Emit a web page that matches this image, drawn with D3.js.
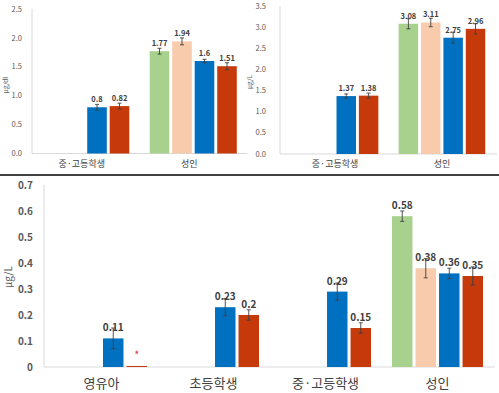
<html>
<head>
<script src="https://d3js.org/d3.v7.min.js"></script>
<style>
body { margin: 0; background: #fff; }
text { font-family: 'Noto Sans CJK KR', 'Noto Sans', sans-serif; }
</style>
</head>
<body>
<div id="plot"></div>
<script>

var width = 499;
var height = 393;

var seriesColors = ["#a9d18e", "#f8cbad", "#0070c0", "#c5390b"];

// top left panel (ug/dl)
var tlCategories = ["중·고등학생", "성인"];
var tlGreen = [null, 1.77], tlGreenErr = [null, 0.05];
var tlOrange = [null, 1.94], tlOrangeErr = [null, 0.06];
var tlBlue = [0.8, 1.6], tlBlueErr = [0.05, 0.03];
var tlRed = [0.82, 1.51], tlRedErr = [0.05, 0.06];
var tlTicks = ["0.0", "0.5", "1.0", "1.5", "2.0", "2.5"];

// top right panel (ug/L)
var trCategories = ["중·고등학생", "성인"];
var trGreen = [null, 3.08], trGreenErr = [null, 0.12];
var trOrange = [null, 3.11], trOrangeErr = [null, 0.1];
var trBlue = [1.37, 2.75], trBlueErr = [0.05, 0.13];
var trRed = [1.38, 2.96], trRedErr = [0.06, 0.12];
var trTicks = ["0.0", "0.5", "1.0", "1.5", "2.0", "2.5", "3.0", "3.5"];

// bottom panel (ug/L)
var btCategories = ["영유아", "초등학생", "중·고등학생", "성인"];
var btGreen = [null, null, null, 0.58], btGreenErr = [null, null, null, 0.02];
var btOrange = [null, null, null, 0.38], btOrangeErr = [null, null, null, 0.037];
var btBlue = [0.11, 0.23, 0.29, 0.36], btBlueErr = [0.04, 0.033, 0.033, 0.02];
var btRed = [0.004, 0.2, 0.15, 0.35], btRedErr = [null, 0.02, 0.02, 0.035];
var btRedLabels = ["*", "0.2", "0.15", "0.35"];
var btTicks = ["0", "0.1", "0.2", "0.3", "0.4", "0.5", "0.6", "0.7"];

var svg = d3.select("#plot").append("svg").attr("width", width).attr("height", height);
svg.append("rect").attr("width", width).attr("height", height).style("fill", "#fff");

function drawPanel(p) {
	var g = svg.append("g");

	var yScale = d3.scaleLinear().domain([0, p.max]).range([p.y0, p.y1]);
	var xScale = d3.scaleBand().domain(p.categories).range([p.x0, p.x1])
		.paddingInner(p.padIn).paddingOuter(p.padOut);
	var inner = d3.scaleBand().domain(d3.range(4)).range([0, xScale.bandwidth()]).paddingInner(0.13);

	// axis lines
	g.append("line").attr("x1", p.x0).attr("x2", p.x0)
		.attr("y1", yScale(p.max)).attr("y2", yScale(0))
		.style("stroke", "#d9d9d9");
	g.append("line").attr("x1", p.x0).attr("x2", p.x1)
		.attr("y1", yScale(0)).attr("y2", yScale(0))
		.style("stroke", "#d9d9d9");

	g.selectAll(".tick").data(p.ticks).enter().append("text")
		.attr("x", p.tickX)
		.attr("y", function(d) { return yScale(+d); })
		.attr("dy", "0.35em")
		.attr("text-anchor", "end")
		.style("font-size", p.tickSize + "px")
		.style("font-weight", p.tickWeight)
		.style("fill", "#595959")
		.text(function(d) { return d; });

	g.append("text")
		.attr("transform", "translate(" + p.titleX + "," + p.titleY + ") rotate(-90)")
		.attr("text-anchor", "middle")
		.attr("dy", "0.35em")
		.style("font-size", p.titleSize + "px")
		.style("fill", "#595959")
		.text(p.title);

	g.selectAll(".cat").data(p.categories).enter().append("text")
		.attr("x", function(d) { return xScale(d) + xScale.bandwidth() / 2 + p.catShift; })
		.attr("y", p.catY)
		.attr("text-anchor", "middle")
		.style("font-size", p.catSize + "px")
		.style("fill", "#404040")
		.text(function(d) { return d; });

	p.series.forEach(function(s, si) {
		var rows = s.values.map(function(v, i) {
			return { cat: p.categories[i], v: v, err: s.errs[i], label: s.labels ? s.labels[i] : v };
		}).filter(function(d) { return d.v !== null; });

		g.selectAll(".bar" + si).data(rows).enter().append("rect")
			.attr("x", function(d) { return xScale(d.cat) + inner(si); })
			.attr("y", function(d) { return yScale(d.v); })
			.attr("width", inner.bandwidth())
			.attr("height", function(d) { return yScale(0) - yScale(d.v); })
			.style("fill", seriesColors[si]);

		g.selectAll(".lab" + si).data(rows).enter().append("text")
			.attr("x", function(d) { return xScale(d.cat) + inner(si) + inner.bandwidth() / 2; })
			.attr("y", function(d) { return d.label === "*" ? yScale(d.v) - 8 : yScale(d.v) - p.labelGap; })
			.attr("text-anchor", "middle")
			.style("font-size", function(d) { return (d.label === "*" ? 9 : p.labelSize) + "px"; })
			.style("font-weight", "bold")
			.style("fill", function(d) { return d.label === "*" ? "#e8404a" : "#404040"; })
			.text(function(d) { return d.label; });

		var errRows = rows.filter(function(d) { return d.err; });
		var cx = function(d) { return xScale(d.cat) + inner(si) + inner.bandwidth() / 2; };
		g.selectAll(".err" + si).data(errRows).enter().append("path")
			.attr("d", function(d) {
				var x = cx(d), t = yScale(d.v + d.err), b = yScale(d.v - d.err);
				return "M" + x + "," + t + "V" + b +
					"M" + (x - 2) + "," + t + "H" + (x + 2) +
					"M" + (x - 2) + "," + b + "H" + (x + 2);
			})
			.style("stroke", "#404040")
			.style("stroke-width", 0.9)
			.style("fill", "none");
	});
}

drawPanel({
	categories: tlCategories, max: 2.5, y0: 153.5, y1: 9, x0: 32, x1: 247,
	padIn: 0.19, padOut: 0.095, ticks: tlTicks, tickX: 22, tickSize: 7.5, tickWeight: "normal",
	title: "μg/dl", titleX: 6, titleY: 85, titleSize: 6.5,
	catY: 167, catSize: 9, catShift: -4, labelSize: 7.5, labelGap: 5,
	series: [
		{ values: tlGreen, errs: tlGreenErr },
		{ values: tlOrange, errs: tlOrangeErr },
		{ values: tlBlue, errs: tlBlueErr },
		{ values: tlRed, errs: tlRedErr }
	]
});

drawPanel({
	categories: trCategories, max: 3.5, y0: 154, y1: 6, x0: 280, x1: 497,
	padIn: 0.19, padOut: 0.11, ticks: trTicks, tickX: 266, tickSize: 7.5, tickWeight: "normal",
	title: "μg/L", titleX: 250, titleY: 82, titleSize: 6.5,
	catY: 167, catSize: 9, catShift: 0, labelSize: 7.5, labelGap: 5,
	series: [
		{ values: trGreen, errs: trGreenErr },
		{ values: trOrange, errs: trOrangeErr },
		{ values: trBlue, errs: trBlueErr },
		{ values: trRed, errs: trRedErr }
	]
});

// divider between top and bottom charts
svg.append("line").attr("x1", 0).attr("x2", width).attr("y1", 175).attr("y2", 175)
	.style("stroke", "#000").style("stroke-width", 1.5);

drawPanel({
	categories: btCategories, max: 0.7, y0: 367, y1: 185, x0: 44, x1: 495,
	padIn: 0.1875, padOut: 0.107, ticks: btTicks, tickX: 33, tickSize: 10, tickWeight: "bold",
	title: "μg/L", titleX: 8, titleY: 277, titleSize: 10,
	catY: 388, catSize: 13, catShift: 0, labelSize: 10, labelGap: 7,
	series: [
		{ values: btGreen, errs: btGreenErr },
		{ values: btOrange, errs: btOrangeErr },
		{ values: btBlue, errs: btBlueErr },
		{ values: btRed, errs: btRedErr, labels: btRedLabels }
	]
});

</script>
</body>
</html>
